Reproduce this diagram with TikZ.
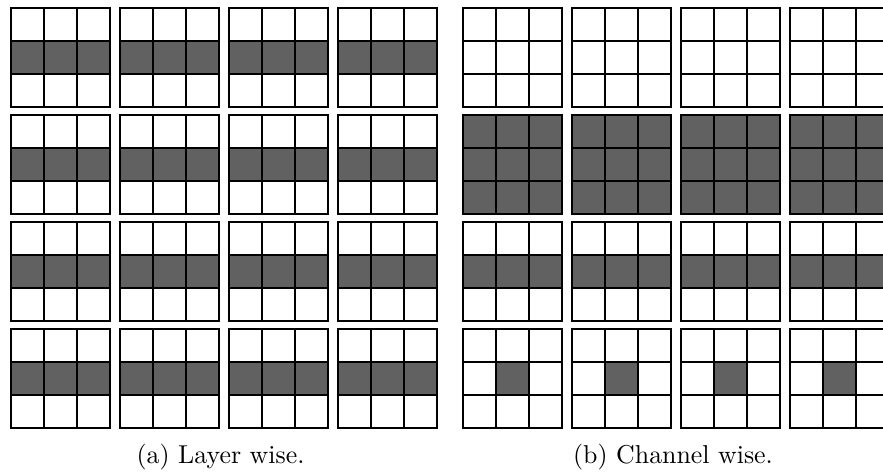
\documentclass[tikz,border=0pt]{standalone}
\begin{document}
\begin{tikzpicture}[x=0.3868pt,y=-0.3868pt,
  gridline/.style={draw=black,line width=0.8pt},
  shaded/.style={fill=black!62},
  caption/.style={anchor=base,inner sep=0pt,font=\normalsize}]
\useasboundingbox (0,0) rectangle (883,474);
\clip (0,0) rectangle (883,474);

% one 3x3 block with its lower-left at the given offset
\def\cell{33}
\newcommand\blockgrid[2]{%
  \foreach \k in {1,2}{%
    \draw[gridline] (#1+33*\k,#2) -- (#1+33*\k,#2+99);
    \draw[gridline] (#1,#2+33*\k) -- (#1+99,#2+33*\k);
  }%
  \draw[gridline] (#1,#2) rectangle (#1+99,#2+99);
}

% (a) layer wise: middle row shaded in every block
\foreach \cx in {11,120,229,338}{
  \foreach \cy in {8,115,222,329}{
    \fill[shaded] (\cx,\cy+33) rectangle (\cx+99,\cy+66);
    \blockgrid{\cx}{\cy}
  }
}

% (b) channel wise
\foreach \cx in {463,572,681,790}{
  % row 1: nothing shaded
  \blockgrid{\cx}{8}
  % row 2: whole block shaded
  \fill[shaded] (\cx,115) rectangle (\cx+99,214);
  \blockgrid{\cx}{115}
  % row 3: middle row shaded
  \fill[shaded] (\cx,255) rectangle (\cx+99,288);
  \blockgrid{\cx}{222}
  % row 4: centre cell shaded
  \fill[shaded] (\cx+33,362) rectangle (\cx+66,395);
  \blockgrid{\cx}{329}
}

\node[caption] (capa) at (220.5,463) {(a) Layer wise.};
\node[caption] (capb) at (673,463) {(b) Channel wise.};
\end{tikzpicture}
\end{document}
